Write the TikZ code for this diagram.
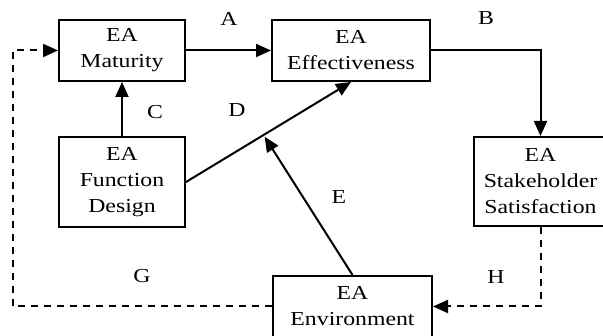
\documentclass[tikz,border=0pt]{standalone}
\usepackage{fontspec}
\setmainfont{Liberation Serif}
\usetikzlibrary{arrows.meta,calc}
\newcommand{\hx}[1]{\scalebox{1.2}[1]{#1}}
\begin{document}
\begin{tikzpicture}[x=1pt,y=-1pt,
 box/.style={draw,line width=2pt,inner sep=0pt,align=center,font=\fontsize{19.8}{26}\selectfont},
 lab/.style={inner sep=0pt,font=\fontsize{19.8}{24}\selectfont},
 arr/.style={line width=2pt,-{Triangle[length=15pt,width=13pt]}},
 dsh/.style={arr,dash pattern=on 7pt off 6pt}]
\useasboundingbox (0,0) rectangle (603,336);
\clip (0,0) rectangle (603,336);
\node[box,minimum width=126pt,minimum height=61pt] (mat) at (122,50.5) {\hx{EA}\\\hx{Maturity}};
\node[box,minimum width=158pt,minimum height=61pt] (eff) at (351,50.5) {\hx{EA}\\\hx{Effectiveness}};
\node[box,minimum width=126pt,minimum height=90pt] (fun) at (122,182) {\hx{EA}\\\hx{Function}\\\hx{Design}};
\node[box,minimum width=133pt,minimum height=89pt] (sta) at (540.5,181.5) {\hx{EA}\\\hx{Stakeholder}\\\hx{Satisfaction}};
\node[box,minimum width=159pt,minimum height=61pt] (env) at (352.5,306.5) {\hx{EA}\\\hx{Environment}};
\coordinate (gcorner) at (12.5,306.5);
\draw[arr] (mat.east) -- (eff.west);
\draw[arr] (eff.east) -| (sta.north);
\draw[arr] (fun.north) -- (mat.south);
\draw[arr] (fun.east) -- coordinate[pos=0.47] (dm) (eff.south);
\draw[arr,shorten >=2pt] (env.north) -- (dm);
\draw[dsh] (env.west) -- (gcorner) |- (mat.west);
\draw[dsh] (sta.south) |- (env.east);
\node[lab] (la) at (229,18.5) {\hx{A}};
\node[lab] (lb) at (486,18.5) {\hx{B}};
\node[lab] (lc) at (155,112) {\hx{C}};
\node[lab] (ld) at (237,110) {\hx{D}};
\node[lab] (le) at (339,197) {\hx{E}};
\node[lab] (lg) at (142,276) {\hx{G}};
\node[lab] (lh) at (496,277) {\hx{H}};
\end{tikzpicture}
\end{document}
